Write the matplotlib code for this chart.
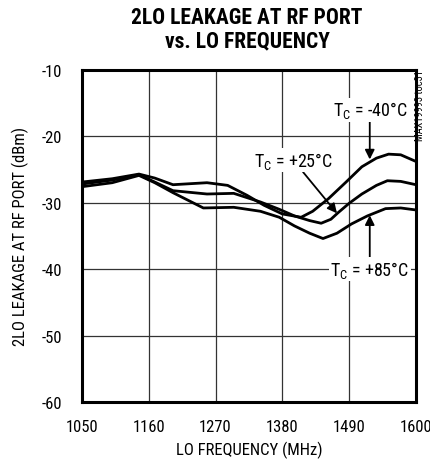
import matplotlib
matplotlib.use("Agg")
import matplotlib.pyplot as plt

fonts = ['Roboto Condensed', 'Archivo Narrow', 'PT Sans Narrow', 'Liberation Sans Narrow', 'DejaVu Sans']
plt.rcParams['font.family'] = fonts
plt.rcParams['axes.unicode_minus'] = False
plt.rcParams['mathtext.fontset'] = 'custom'
plt.rcParams['mathtext.rm'] = 'Roboto Condensed'

# datos
freq_m40 = [1050, 1100, 1144, 1170, 1200, 1256, 1290, 1322, 1350, 1380, 1411, 1430, 1456, 1485, 1511, 1535, 1555, 1575, 1600]
tc_m40 = [-26.9, -26.4, -25.7, -26.3, -27.3, -27.0, -27.4, -28.9, -30.4, -31.7, -32.2, -31.3, -29.4, -26.9, -24.6, -23.3, -22.7, -22.8, -23.8]

freq_25 = [1050, 1100, 1144, 1170, 1200, 1256, 1300, 1344, 1375, 1400, 1425, 1444, 1460, 1472, 1490, 1511, 1535, 1553, 1575, 1600]
tc_25 = [-27.2, -26.6, -25.8, -26.9, -28.2, -28.7, -28.6, -29.9, -31.0, -32.0, -32.7, -33.1, -32.5, -31.5, -30.1, -28.7, -27.4, -26.7, -26.8, -27.3]

freq_85 = [1050, 1100, 1144, 1170, 1200, 1250, 1300, 1344, 1375, 1400, 1425, 1447, 1470, 1494, 1520, 1550, 1575, 1600]
tc_85 = [-27.6, -27.0, -25.9, -27.0, -28.5, -30.8, -30.7, -31.3, -32.2, -33.5, -34.6, -35.4, -34.6, -33.2, -32.0, -30.9, -30.8, -31.1]

x_ticks = [1050, 1160, 1270, 1380, 1490, 1600]
y_ticks = [-10, -20, -30, -40, -50, -60]

fig = plt.figure(figsize=(4.31, 4.64), dpi=100)
ax = fig.add_axes([0.19, 0.1315, 0.775, 0.716])

for f, v in [(freq_m40, tc_m40), (freq_25, tc_25), (freq_85, tc_85)]:
    ax.plot(f, v, color='black', lw=2.0, zorder=3)

ax.set_xlim(1050, 1600)
ax.set_ylim(-60, -10)
ax.set_xticks(x_ticks)
ax.set_yticks(y_ticks)
ax.grid(True, color='#333333', lw=0.9)
ax.tick_params(length=0, labelsize=12)
ax.tick_params(axis='y', pad=14)
ax.tick_params(axis='x', pad=12)
for lab in ax.get_yticklabels():
    lab.set_verticalalignment('center_baseline')
for s in ax.spines.values():
    s.set_linewidth(2.2)

ax.set_xlabel('LO FREQUENCY (MHz)', fontsize=12, labelpad=5)
ax.set_ylabel('2LO LEAKAGE AT RF PORT (dBm)', fontsize=12, labelpad=9)
fig.suptitle('2LO LEAKAGE AT RF PORT\nvs. LO FREQUENCY', fontsize=15.5,
             fontweight='bold', x=0.573, y=0.985, linespacing=1.1)

bbox = dict(facecolor='white', edgecolor='none', pad=1)
arrow = dict(arrowstyle='-|>', color='black', lw=1.3, mutation_scale=14, shrinkA=0, shrinkB=0)

ax.annotate(r'T$_\mathregular{C}$ = -40°C', xy=(1524, -23.5), xytext=(1524, -16.0),
            ha='center', va='center', fontsize=13, bbox=bbox, arrowprops=arrow, zorder=4)
ax.annotate(r'T$_\mathregular{C}$ = +25°C', xy=(1470, -31.6), xytext=(1398, -23.6),
            ha='center', va='center', fontsize=13, bbox=bbox, arrowprops=arrow, zorder=4)
ax.annotate(r'T$_\mathregular{C}$ = +85°C', xy=(1524, -31.9), xytext=(1524, -40.0),
            ha='center', va='center', fontsize=13, bbox=bbox, arrowprops=arrow, zorder=4)

fig.text(0.975, 0.848, 'MAX19993 toc31', rotation=90, fontsize=7.5, ha='center', va='top')

fig.savefig('out.png', dpi=100)
